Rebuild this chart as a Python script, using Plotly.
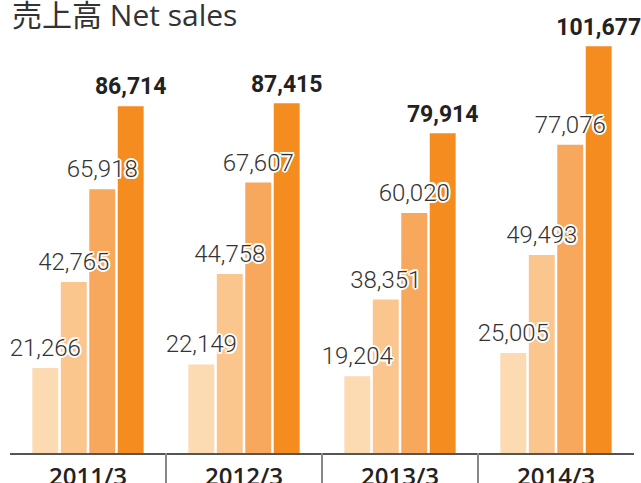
import plotly.graph_objects as go

years = ["2011/3", "2012/3", "2013/3", "2014/3"]
q1 = [21266, 22149, 19204, 25005]
q2 = [42765, 44758, 38351, 49493]
q3 = [65918, 67607, 60020, 77076]
q4 = [86714, 87415, 79914, 101677]
series = [q1, q2, q3, q4]
names = ["Q1", "Q2", "Q3", "Q4"]
colors = ["#fcdab2", "#fbc58e", "#f7a85d", "#f48c20"]

title_text = "売上高 Net sales"

outline = ("2px 0 0 #fff, -2px 0 0 #fff, 0 2px 0 #fff, 0 -2px 0 #fff, "
           "1.5px 1.5px 0 #fff, -1.5px -1.5px 0 #fff, 1.5px -1.5px 0 #fff, -1.5px 1.5px 0 #fff")

fig = go.Figure()
for i, (vals, nm, col) in enumerate(zip(series, names, colors)):
    fig.add_trace(go.Bar(
        x=years, y=vals, name=nm, offsetgroup=nm,
        marker=dict(color=col, line=dict(width=0)),
        hoverinfo="skip",
    ))

for i, (vals, nm) in enumerate(zip(series, names)):
    last = i == 3
    fig.add_trace(go.Scatter(
        x=years, y=vals, name=nm + " label", offsetgroup=nm,
        mode="markers+text",
        marker=dict(size=8, opacity=0),
        text=[f"{v:,}" for v in vals],
        textposition="top center", cliponaxis=False,
        textfont=dict(
            family="Roboto, sans-serif",
            size=23 if last else 24,
            color="#222" if last else "#333",
            weight=700 if last else 300,
            shadow="none" if last else outline,
        ),
        hoverinfo="skip",
    ))

fig.update_layout(
    width=641, height=483,
    margin=dict(l=10, r=7, t=0, b=30, autoexpand=False),
    paper_bgcolor="white", plot_bgcolor="white",
    barmode="group", bargap=0.27, bargroupgap=0.09,
    scattermode="group", scattergap=0.27,
    showlegend=False,
    xaxis=dict(
        type="category", showgrid=False, zeroline=False, automargin=False,
        showline=True, linecolor="#555", linewidth=1.5,
        ticks="", ticklabelstandoff=1,
        tickfont=dict(family="Open Sans, sans-serif", size=24, color="#222", weight=600),
    ),
    yaxis=dict(range=[0, 113250], visible=False, showgrid=False, zeroline=False, automargin=False),
    annotations=[dict(
        text=title_text, xref="paper", yref="paper", x=0, y=1,
        xanchor="left", yanchor="top", yshift=8, showarrow=False,
        font=dict(family="Open Sans, Noto Sans CJK JP, sans-serif", size=30, color="#333"),
    )],
    shapes=[dict(type="line", xref="x", yref="paper", x0=b, x1=b, y0=0, y1=-0.07,
                 line=dict(color="#888", width=2)) for b in (0.5, 1.5, 2.5)],
)

fig.write_html("out.html", config={"displayModeBar": False},
               post_script="document.body.style.margin='0';")
